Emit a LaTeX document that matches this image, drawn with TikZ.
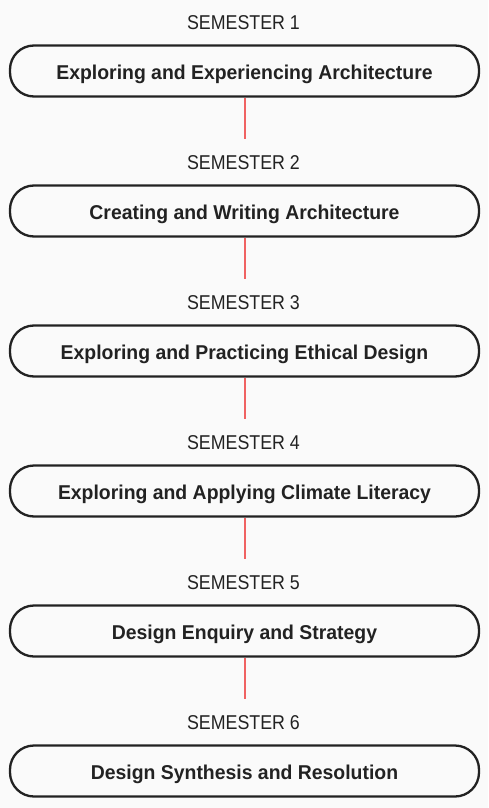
\documentclass[tikz,border=0pt]{standalone}
\usepackage{fontspec}
\setmainfont{Liberation Sans}
\newfontfamily\labelfont[FakeStretch=0.89]{Liberation Sans}
\newfontfamily\titlefont[FakeStretch=0.97]{Liberation Sans}
\definecolor{bg}{HTML}{FAFAFA}
\definecolor{ink}{HTML}{222222}
\definecolor{link}{HTML}{F06262}
\begin{document}
\begin{tikzpicture}[x=1pt,y=-1pt,
  sembox/.style={draw=ink,line width=2.3pt,rounded corners=24pt,minimum width=469pt,minimum height=51pt,inner sep=0pt,text height=16.6pt,text depth=0pt,font=\titlefont\fontsize{20}{24}\selectfont\bfseries,text=ink},
  semlabel/.style={font=\labelfont\fontsize{20}{24}\selectfont,text=ink,inner sep=0pt,anchor=base},
  conn/.style={draw=link,line width=2pt}]
\fill[bg] (0,0) rectangle (488,808);
\useasboundingbox (0,0) rectangle (488,808);
\foreach \i/\t in {1/Exploring and Experiencing Architecture,2/Creating and Writing Architecture,3/Exploring and Practicing Ethical Design,4/Exploring and Applying Climate Literacy,5/Design Enquiry and Strategy,6/Design Synthesis and Resolution}{
  \node[semlabel] (l\i) at (243.5,{29.3+140*(\i-1)}) {SEMESTER \i};
  \node[sembox] (b\i) at (244.5,{71+140*(\i-1)}) {\t};
}
\foreach \i/\j in {1/2,2/3,3/4,4/5,5/6}{
  \coordinate (e\i) at ([yshift=-41pt]b\i.south);
  \draw[conn] (b\i.south) -- (e\i);
}
\end{tikzpicture}
\end{document}
